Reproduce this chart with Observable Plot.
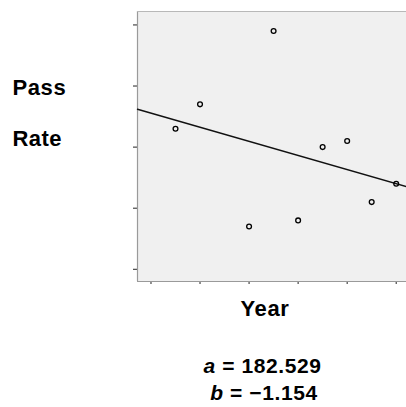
<!DOCTYPE html>
<html>
<head>
<meta charset="utf-8">
<script src="https://cdn.jsdelivr.net/npm/d3@7"></script>
<script src="https://cdn.jsdelivr.net/npm/@observablehq/plot@0.6"></script>
<style>
  html, body { margin: 0; padding: 0; background: white; }
  #chart { width: 406px; height: 407px; }
</style>
</head>
<body>
<div id="chart"></div>
<script>
// Data
const years = [94, 95, 97, 98, 99, 100, 101, 102, 103];
const passRates = [73, 77, 57, 89, 58, 70, 71, 61, 64];
const xTicks = [93, 95, 97, 99, 101, 103];
const yTicks = [50, 60, 70, 80, 90];
const xDomain = [92.45, 103.42];
const yDomain = [48, 92.2];
const yLabelLines = ["Pass", "Rate"];
const xLabel = "Year";
const coefA = "182.529";
const coefB = "\u22121.154";

const data = years.map((y, i) => ({year: y, rate: passRates[i]}));

// least-squares fit from the data
const mx = d3.mean(years), my = d3.mean(passRates);
const slope = d3.sum(data, d => (d.year - mx) * (d.rate - my)) / d3.sum(data, d => (d.year - mx) ** 2);
const intercept = my - slope * mx;
const fitLine = xDomain.map(x => ({year: x, rate: intercept + slope * x}));

const chart = Plot.plot({
  width: 406,
  height: 407,
  marginLeft: 137,
  marginRight: 0,
  marginTop: 11,
  marginBottom: 126,
  style: {background: "white", color: "#222", overflow: "visible"},
  x: {domain: xDomain, ticks: xTicks, tickFormat: () => "", tickSize: 3, label: null},
  y: {domain: yDomain, ticks: yTicks, tickFormat: () => "", tickSize: 4, label: null},
  marks: [
    Plot.frame({fill: "#f0f0f0", stroke: null}),
    Plot.ruleX([xDomain[0]], {stroke: "#9a9a9a", strokeWidth: 1.2}),
    Plot.ruleY([yDomain[0]], {stroke: "#9a9a9a", strokeWidth: 1.2}),
    Plot.ruleY([yDomain[1]], {stroke: "#b8b8b8", strokeWidth: 1}),
    Plot.line(fitLine, {x: "year", y: "rate", stroke: "#111", strokeWidth: 1.4}),
    Plot.dot(data, {x: "year", y: "rate", r: 2.4, stroke: "#000", strokeWidth: 1.3, fill: "none"})
  ]
});
document.getElementById("chart").appendChild(chart);

const svg = d3.select(chart);
const font = "'Liberation Sans', Arial, Helvetica, sans-serif";
function addText(x, y, anchor, size, spacing) {
  return svg.append("text")
    .attr("x", x).attr("y", y)
    .attr("text-anchor", anchor)
    .attr("fill", "#000")
    .style("font-family", font)
    .style("font-weight", "bold")
    .style("font-size", size + "px")
    .style("letter-spacing", spacing + "px");
}
addText(12.5, 95, "start", 22, 0.6).text(yLabelLines[0]);
addText(12.5, 146, "start", 22, 0.4).text(yLabelLines[1]);
addText(265, 316, "middle", 22, 0.6).text(xLabel);

const tA = addText(262.5, 372.5, "middle", 21, 0.6);
tA.append("tspan").style("font-style", "italic").text("a");
tA.append("tspan").text(" = " + coefA);
const tB = addText(264, 400, "middle", 21, 0.6);
tB.append("tspan").style("font-style", "italic").text("b");
tB.append("tspan").text(" = " + coefB);
</script>
</body>
</html>
